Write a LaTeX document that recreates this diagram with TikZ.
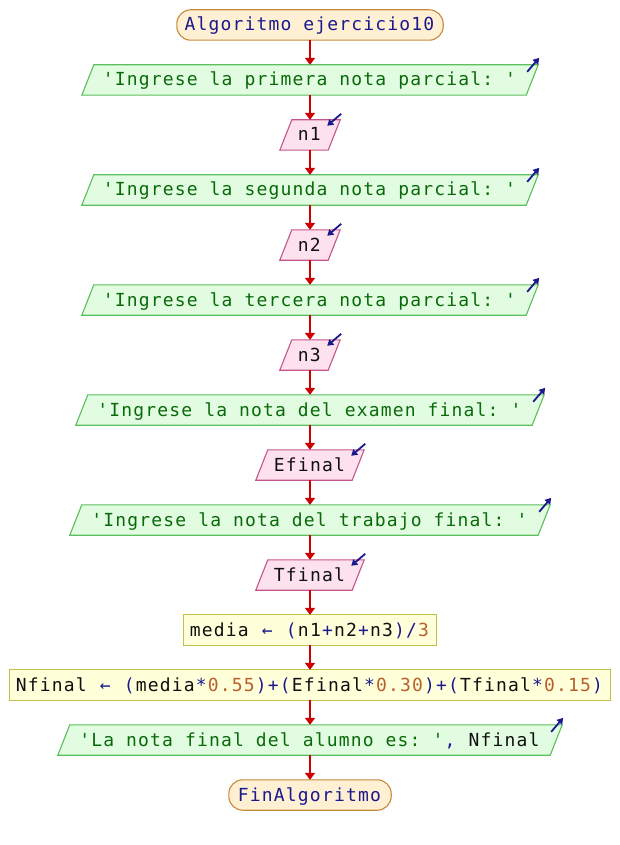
\documentclass[tikz,border=0pt]{standalone}
\usepackage{fontspec}
\setmonofont{DejaVu Sans Mono}[LetterSpace=6.5]
\usetikzlibrary{arrows.meta,backgrounds}

\definecolor{flowred}{HTML}{CC0000}
\definecolor{kwblue}{HTML}{1A1A8C}
\definecolor{strgreen}{HTML}{0A6A0A}
\definecolor{numbrown}{HTML}{B8602E}
\definecolor{varblack}{HTML}{101010}
\definecolor{termfill}{HTML}{FFF0D4}
\definecolor{termline}{HTML}{C48A3C}
\definecolor{outfill}{HTML}{E2FCE2}
\definecolor{outline}{HTML}{5CBE5C}
\definecolor{infill}{HTML}{FDE2EE}
\definecolor{inline}{HTML}{C4558A}
\definecolor{asgfill}{HTML}{FFFFDA}
\definecolor{asgline}{HTML}{C2C048}

% coloured code segments; the kern restores the letter spacing lost at colour changes
\newcommand\kw[1]{\textcolor{kwblue}{#1}\kern1.17pt\relax}
\newcommand\str[1]{\textcolor{strgreen}{#1}\kern1.17pt\relax}
\newcommand\num[1]{\textcolor{numbrown}{#1}\kern1.17pt\relax}
\newcommand\var[1]{\textcolor{varblack}{#1}\kern1.17pt\relax}

% parallelogram behind a node: slant of 12pt
\newcommand\slantbox[2]{\draw[#2] ([xshift=12pt]#1.north west) -- (#1.north east)
  -- ([xshift=-12pt]#1.south east) -- (#1.south west) -- cycle;}
% little arrows on the top-right corner of output and input boxes
\newcommand\outicon[1]{\draw[icon] ([shift={(-11,7)}]#1.north east) -- ([shift={(1,-7)}]#1.north east);}
\newcommand\inicon[1]{\draw[icon] ([shift={(1,-6)}]#1.north east) -- ([shift={(-13,6)}]#1.north east);}

\tikzset{
  blk/.style={inner sep=0pt, minimum height=30pt, anchor=center,
    text height=14pt, text depth=2pt,
    font=\ttfamily\fontsize{18}{20}\selectfont},
  termshape/.style={draw=termline, fill=termfill, line width=1.1pt, rounded corners=14pt},
  outshape/.style={draw=outline, fill=outfill, line width=1.1pt},
  inshape/.style={draw=inline, fill=infill, line width=1.1pt},
  asgshape/.style={draw=asgline, fill=asgfill, line width=1.1pt},
  flow/.style={draw=flowred, line width=2pt, -{Triangle[length=7pt,width=10pt]}},
  icon/.style={draw=kwblue, line width=1.8pt, -{Triangle[length=6pt,width=7pt]}},
}

\begin{document}
\begin{tikzpicture}[x=1pt,y=-1pt]
\useasboundingbox (0,0) rectangle (620,845);

\node[blk, minimum width=266pt] (start) at (310,25)  {\kw{Algoritmo ejercicio10}};
\node[blk, minimum width=456pt] (o1)    at (310,80)  {\str{'Ingrese la primera nota parcial: '}};
\node[blk, minimum width=60pt]  (i1)    at (310,135) {\var{n1}};
\node[blk, minimum width=456pt] (o2)    at (310,190) {\str{'Ingrese la segunda nota parcial: '}};
\node[blk, minimum width=60pt]  (i2)    at (310,245) {\var{n2}};
\node[blk, minimum width=456pt] (o3)    at (310,300) {\str{'Ingrese la tercera nota parcial: '}};
\node[blk, minimum width=60pt]  (i3)    at (310,355) {\var{n3}};
\node[blk, minimum width=468pt] (o4)    at (310,410) {\str{'Ingrese la nota del examen final: '}};
\node[blk, minimum width=108pt] (i4)    at (310,465) {\var{Efinal}};
\node[blk, minimum width=480pt] (o5)    at (310,520) {\str{'Ingrese la nota del trabajo final: '}};
\node[blk, minimum width=108pt] (i5)    at (310,575) {\var{Tfinal}};
\node[blk, minimum width=252pt] (a1)    at (310,630)
  {\var{media} \kw{←} \kw{(}\var{n1}\kw{+}\var{n2}\kw{+}\var{n3}\kw{)/}\num{3}};
\node[blk, minimum width=600pt] (a2)    at (310,685)
  {\var{Nfinal} \kw{←} \kw{(}\var{media}\kw{*}\num{0.55}\kw{)+(}\var{Efinal}\kw{*}\num{0.30}\kw{)+(}\var{Tfinal}\kw{*}\num{0.15}\kw{)}};
\node[blk, minimum width=504pt] (o6)    at (310,740) {\str{'La nota final del alumno es: '}\kw{,} \var{Nfinal}};
\node[blk, minimum width=162pt] (stop)  at (310,795) {\kw{FinAlgoritmo}};

\begin{pgfonlayer}{background}
  \draw[termshape] (start.north west) rectangle (start.south east);
  \draw[termshape] (stop.north west) rectangle (stop.south east);
  \foreach \n in {o1,o2,o3,o4,o5,o6} {\slantbox{\n}{outshape}}
  \foreach \n in {i1,i2,i3,i4,i5} {\slantbox{\n}{inshape}}
  \draw[asgshape] (a1.north west) rectangle (a1.south east);
  \draw[asgshape] (a2.north west) rectangle (a2.south east);
\end{pgfonlayer}

\foreach \n in {o1,o2,o3,o4,o5,o6} {\outicon{\n}}
\foreach \n in {i1,i2,i3,i4,i5} {\inicon{\n}}

\foreach \a/\b in {start/o1,o1/i1,i1/o2,o2/i2,i2/o3,o3/i3,i3/o4,o4/i4,i4/o5,o5/i5,i5/a1,a1/a2,a2/o6,o6/stop}
  {\draw[flow] (\a.south) -- (\b.north);}
\end{tikzpicture}
\end{document}
